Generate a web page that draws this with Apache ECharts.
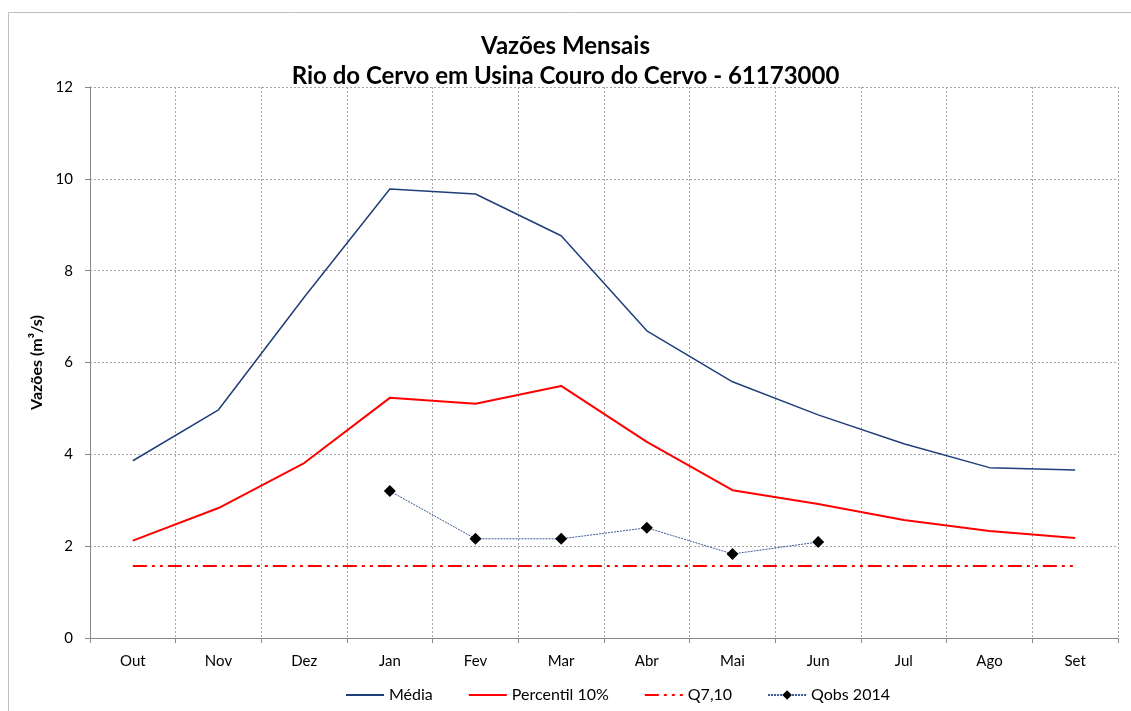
<!DOCTYPE html>
<html>
<head>
<meta charset="utf-8">
<script src="https://cdn.jsdelivr.net/npm/echarts@6/dist/echarts.min.js"></script>
<style>
  html, body { margin: 0; padding: 0; background: #fff; }
  #main { width: 1131px; height: 711px; }
</style>
</head>
<body>
<div id="main"></div>
<script>
// dados
var meses = ['Out', 'Nov', 'Dez', 'Jan', 'Fev', 'Mar', 'Abr', 'Mai', 'Jun', 'Jul', 'Ago', 'Set'];
var media = [3.86, 4.97, 7.42, 9.78, 9.67, 8.76, 6.69, 5.58, 4.86, 4.23, 3.71, 3.66];
var percentil10 = [2.12, 2.83, 3.81, 5.23, 5.10, 5.49, 4.27, 3.22, 2.92, 2.57, 2.33, 2.18];
var q710 = [1.57, 1.57, 1.57, 1.57, 1.57, 1.57, 1.57, 1.57, 1.57, 1.57, 1.57, 1.57];
var qobs2014 = [null, null, null, 3.20, 2.16, 2.16, 2.40, 1.83, 2.09, null, null, null];

var fonte = 'Lato, "Open Sans", sans-serif';

var myChart = echarts.init(document.getElementById('main'));
myChart.setOption({
    animation: false,
    textStyle: { fontFamily: fonte },
    title: {
        text: 'Vazões Mensais\nRio do Cervo em Usina Couro do Cervo - 61173000',
        left: 'center',
        top: 26,
        textStyle: { fontSize: 24, fontWeight: 'bold', color: '#000', lineHeight: 30, fontFamily: fonte }
    },
    graphic: [{
        type: 'rect',
        shape: { x: 8.5, y: 12.5, width: 1140, height: 720 },
        style: { fill: null, stroke: '#bfbfbf', lineWidth: 1 },
        silent: true
    }],
    legend: {
        bottom: 3,
        left: 340,
        itemGap: 35,
        itemWidth: 38,
        itemHeight: 12,
        textStyle: { fontSize: 16, color: '#000', fontFamily: fonte },
        data: [
            { name: 'Média', itemStyle: { opacity: 0 } },
            { name: 'Percentil 10%', itemStyle: { opacity: 0 } },
            { name: 'Q7,10', itemStyle: { opacity: 0 } },
            { name: 'Qobs 2014' }
        ]
    },
    grid: { left: 90, right: 13, top: 87, bottom: 73, containLabel: false },
    xAxis: {
        type: 'category',
        data: meses,
        boundaryGap: true,
        axisLine: { lineStyle: { color: '#868686' } },
        axisTick: { show: true, length: 5, lineStyle: { color: '#868686' } },
        axisLabel: { color: '#000', fontSize: 15, margin: 16 },
        splitLine: { show: true, lineStyle: { color: '#a6a6a6', type: [2, 2] } }
    },
    yAxis: {
        type: 'value',
        min: 0,
        max: 12,
        interval: 2,
        name: 'Vazões (m³/s)',
        nameLocation: 'middle',
        nameGap: 41,
        nameTextStyle: { fontSize: 16, fontWeight: 'bold', color: '#000' },
        axisLine: { show: true, lineStyle: { color: '#868686' } },
        axisTick: { show: true, length: 5, lineStyle: { color: '#868686' } },
        axisLabel: { color: '#000', fontSize: 15, margin: 17 },
        splitLine: { show: true, lineStyle: { color: '#a6a6a6', type: [2, 2] } }
    },
    series: [
        {
            name: 'Média',
            type: 'line',
            data: media,
            symbol: 'none',
            lineStyle: { color: '#1f3f7a', width: 1.5 },
            itemStyle: { color: '#1f3f7a' }
        },
        {
            name: 'Percentil 10%',
            type: 'line',
            data: percentil10,
            symbol: 'none',
            lineStyle: { color: '#ff0000', width: 2 },
            itemStyle: { color: '#ff0000' }
        },
        {
            name: 'Q7,10',
            type: 'line',
            data: q710,
            symbol: 'none',
            lineStyle: { color: '#ff0000', width: 2, type: [14, 5, 3, 5, 3, 5] },
            itemStyle: { color: '#ff0000' }
        },
        {
            name: 'Qobs 2014',
            type: 'line',
            data: qobs2014,
            symbol: 'diamond',
            symbolSize: 12,
            connectNulls: false,
            lineStyle: { color: '#3a5a95', width: 1, type: [2, 1] },
            itemStyle: { color: '#000' }
        }
    ]
});
</script>
</body>
</html>
